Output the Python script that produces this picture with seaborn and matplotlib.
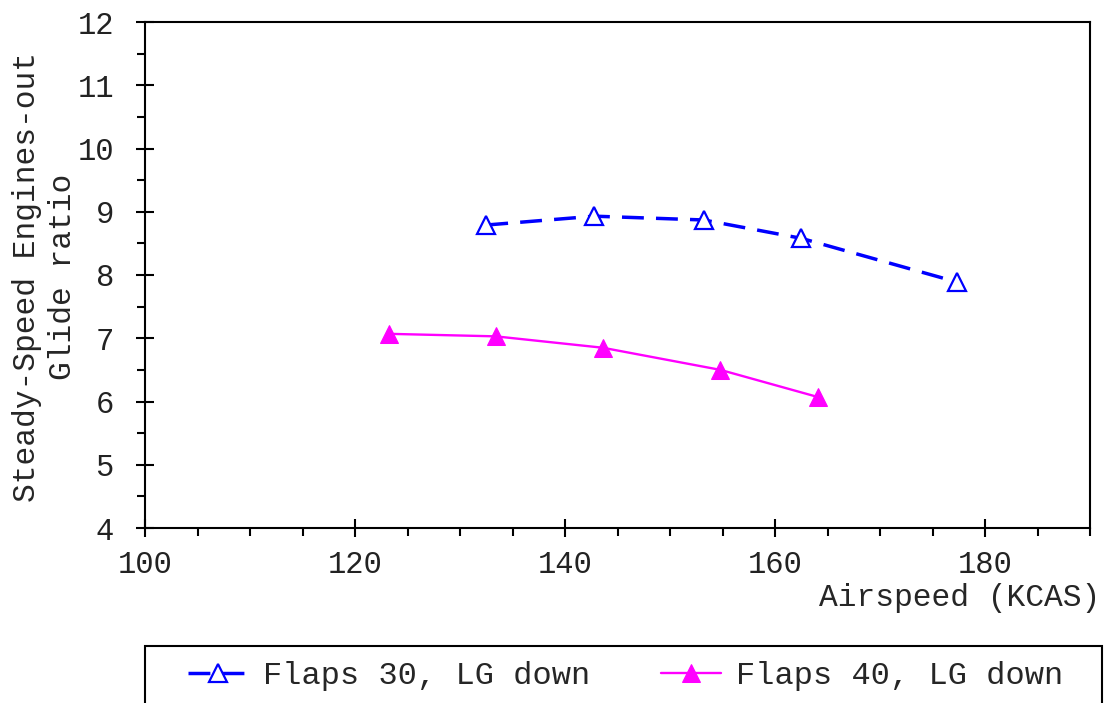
import matplotlib
matplotlib.use("Agg")
import matplotlib.pyplot as plt
from matplotlib.patches import Rectangle
from matplotlib.ticker import MultipleLocator
import seaborn as sns
import pandas as pd

# Data
speed_f30 = [132.5, 142.8, 153.2, 162.5, 177.3]
glide_f30 = [8.79, 8.93, 8.87, 8.58, 7.89]
speed_f40 = [123.2, 133.4, 143.6, 154.8, 164.1]
glide_f40 = [7.07, 7.03, 6.85, 6.50, 6.07]
labels = ["Flaps 30, LG down", "Flaps 40, LG down"]
x_label = "Airspeed (KCAS)"
y_label = "Steady-Speed Engines-out\nGlide ratio"

sns.set_style("white")
plt.rcParams['font.family'] = ['Liberation Mono', 'DejaVu Sans Mono']

fig = plt.figure(figsize=(11.05, 7.03), dpi=100)
ax = fig.add_axes([145/1105, 1-528/703, (1090-145)/1105, (528-22)/703])

df30 = pd.DataFrame({"x": speed_f30, "y": glide_f30})
df40 = pd.DataFrame({"x": speed_f40, "y": glide_f40})

sns.lineplot(data=df30, x="x", y="y", ax=ax, color="#0000FF", lw=2.5,
             dashes=False, marker="^", markersize=12.5, markerfacecolor="white",
             markeredgecolor="#0000FF", markeredgewidth=1.6, label=labels[0],
             sort=False, legend=False)
ax.lines[-1].set_dashes((6.3, 3.5))
sns.lineplot(data=df40, x="x", y="y", ax=ax, color="#FF00FF", lw=1.7,
             marker="^", markersize=12.5, markerfacecolor="#FF00FF",
             markeredgecolor="#FF00FF", label=labels[1], sort=False, legend=False)

ax.set_xlim(100, 190)
ax.set_ylim(4, 12)
ax.xaxis.set_major_locator(MultipleLocator(20))
ax.xaxis.set_minor_locator(MultipleLocator(5))
ax.yaxis.set_major_locator(MultipleLocator(1))
ax.yaxis.set_minor_locator(MultipleLocator(0.5))

for s in ax.spines.values():
    s.set_color("black")
    s.set_linewidth(1.5)

ax.tick_params(which="both", bottom=True, left=True, top=False, right=False)
ax.tick_params(axis="both", which="major", direction="inout", length=13, width=1.5,
               colors="black", labelsize=22, labelcolor="#222222")
ax.tick_params(axis="x", which="major", pad=9)
ax.tick_params(axis="y", which="major", pad=16)
ax.tick_params(axis="both", which="minor", direction="out", length=5.5, width=1.5,
               colors="black")

ax.set_xlabel(x_label, fontsize=22.5, ha="right", va="center")
ax.xaxis.set_label_coords((1100-145)/945, (528-598)/506)
ax.set_ylabel(y_label, fontsize=22.5, ha="center", va="center", linespacing=1.25)
ax.yaxis.set_label_coords((45-145)/945, (528-277)/506)

# Legend
handles = ax.lines[:2]
leg = fig.legend(handles, labels, loc="center left", ncol=2,
                 bbox_to_anchor=(188/1105, 1-676/703), frameon=False,
                 fontsize=23, handlelength=1.9, handletextpad=0.45,
                 columnspacing=2.2, borderpad=0, borderaxespad=0)
fig.patches.append(Rectangle((145/1105, -0.05), (1102-145)/1105, 0.05+1-646/703,
                             transform=fig.transFigure, fill=False,
                             edgecolor="black", lw=1.5))

fig.savefig("out.png", dpi=100)
